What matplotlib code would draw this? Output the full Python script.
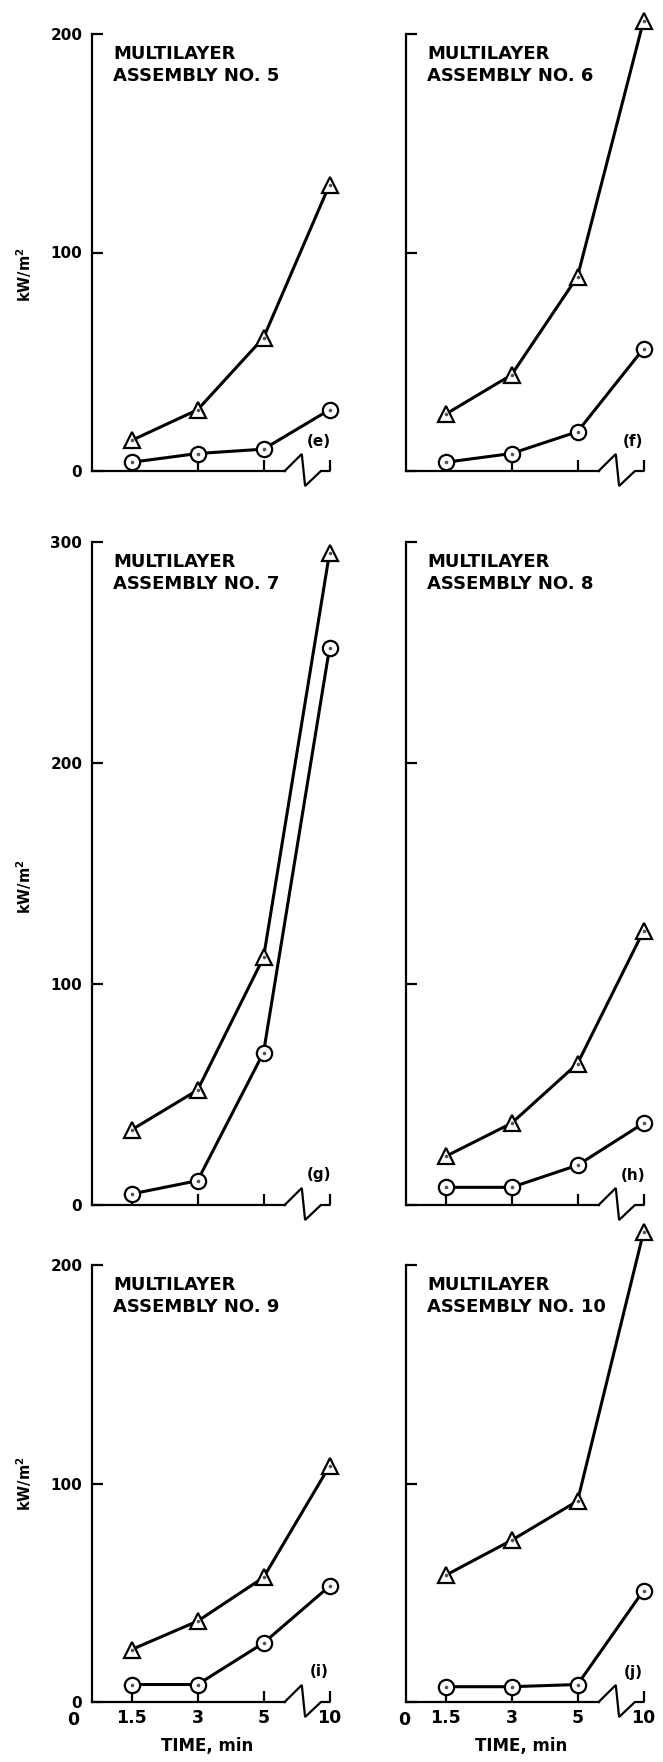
import matplotlib.pyplot as plt

plt.rcParams['font.family'] = ['DejaVu Sans']
plt.rcParams['font.weight'] = 'bold'
plt.rcParams['mathtext.default'] = 'bf'

# time points (categorical positions on a broken axis)
times = ['1.5', '3', '5', '10']
xpos = [1, 2, 3, 4]

# kW/m2, triangles and circles for each assembly
tri_5 = [14, 28, 61, 131]
circ_5 = [4, 8, 10, 28]
tri_6 = [26, 44, 89, 206]
circ_6 = [4, 8, 18, 56]
tri_7 = [34, 52, 112, 295]
circ_7 = [5, 11, 69, 252]
tri_8 = [22, 37, 64, 124]
circ_8 = [8, 8, 18, 37]
tri_9 = [24, 37, 57, 108]
circ_9 = [8, 8, 27, 53]
tri_10 = [58, 74, 92, 215]
circ_10 = [7, 7, 8, 51]

assemblies = ['5', '6', '7', '8', '9', '10']
letters = ['(e)', '(f)', '(g)', '(h)', '(i)', '(j)']
tri_all = [tri_5, tri_6, tri_7, tri_8, tri_9, tri_10]
circ_all = [circ_5, circ_6, circ_7, circ_8, circ_9, circ_10]
ymax = [200, 200, 300, 300, 200, 200]

W, H = 663, 1762
fig = plt.figure(figsize=(W / 100, H / 100), dpi=100)

col_x = [92, 406]
ax_w = 254
rows = [(34, 437), (542, 663), (1265, 437)]   # top px, height px
ylab_pos = [0.45, 0.48, 0.50]
xmin, xmax = 0.4, 4.25

for k in range(6):
    r, c = divmod(k, 2)
    top, h = rows[r]
    left = col_x[c]
    ax = fig.add_axes([left / W, 1 - (top + h) / H, ax_w / W, h / H])
    ax.set_xlim(xmin, xmax)
    ax.set_ylim(0, ymax[k])
    upx = ymax[k] / h     # data units per pixel

    ax.plot(xpos, tri_all[k], color='k', lw=2.2, marker='^', ms=11.5,
            mfc='white', mec='k', mew=1.6, clip_on=False, zorder=3)
    ax.plot(xpos, circ_all[k], color='k', lw=2.2, marker='o', ms=11,
            mfc='white', mec='k', mew=1.6, clip_on=False, zorder=3)
    ax.plot(xpos, tri_all[k], ls='none', marker='o', ms=1.6, color='#555555',
            clip_on=False, zorder=4)
    ax.plot(xpos, circ_all[k], ls='none', marker='o', ms=1.6, color='#555555',
            clip_on=False, zorder=4)

    for s in ['top', 'right']:
        ax.spines[s].set_visible(False)
    ax.spines['left'].set_bounds(0, ymax[k])
    ax.spines['bottom'].set_bounds(xmin, 3.32)
    for s in ['left', 'bottom']:
        ax.spines[s].set_linewidth(1.6)

    # axis break zigzag
    zx = [3.32, 3.58, 3.63, 3.87, 4.0]
    zy = [0, 17 * upx, -15 * upx, 0, 0]
    ax.plot(zx, zy, color='k', lw=1.6, clip_on=False, solid_joinstyle='miter')

    ax.set_xticks(xpos)
    ax.set_yticks(list(range(0, ymax[k] + 1, 100)))
    ax.tick_params(direction='in', length=8, width=1.6)
    ax.tick_params(axis='x', pad=5, labelsize=12.5)
    ax.tick_params(axis='y', pad=7, labelsize=11)
    if r == 2:
        ax.set_xticklabels(times)
        x0 = 0.11 if c == 0 else 0.37
        ax.text(x0, -18 * upx, '0', ha='center', va='center', fontsize=12.5)
        ax.text(2.15, -44 * upx, 'TIME, min', ha='center', va='center',
                fontsize=12)
    else:
        ax.set_xticklabels([])
    if c == 0:
        ax.set_yticklabels([str(v) for v in range(0, ymax[k] + 1, 100)])
        ax.text(-68 / ax_w, ylab_pos[r], 'kW/m$^2$', rotation=90,
                ha='center', va='center', fontsize=10.5, transform=ax.transAxes)
    else:
        ax.set_yticklabels([])

    ax.text(21 / ax_w, 1 - 11 / h, 'MULTILAYER\nASSEMBLY NO. ' + assemblies[k],
            transform=ax.transAxes, ha='left', va='top', fontsize=13,
            linespacing=1.3)
    ax.text(3.84, 30 * upx, letters[k], ha='center', va='center', fontsize=11)

fig.savefig('out.png', dpi=100)
